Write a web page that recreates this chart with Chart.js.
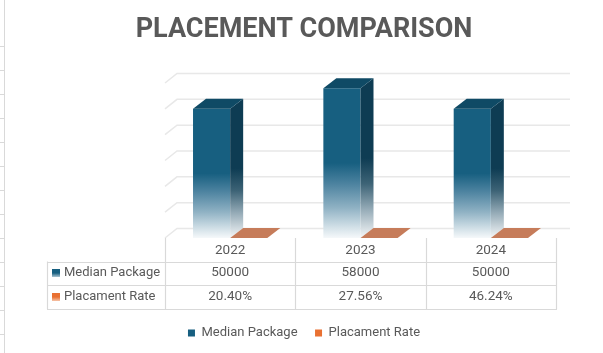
<!DOCTYPE html>
<html><head><meta charset="utf-8">
<script src="https://cdn.jsdelivr.net/npm/chart.js@4.4.1/dist/chart.umd.min.js"></script>
<style>html,body{margin:0;padding:0;background:#fff;}</style>
</head><body>
<canvas id="c" width="603" height="353"></canvas>
<script>
const categories = ['2022', '2023', '2024'];
const seriesNames = ['Median Package', 'Placament Rate'];
const medianPackage = [50000, 58000, 50000];
const placementRate = [20.40, 27.56, 46.24];
const yMax = 60000;
const yStep = 10000;

const DX = 13, DY = -10;      // bar depth
const WDX = 12, WDY = -9.5;   // wall depth
const TEXT = '#595959', LINE = '#d9d9d9', GRID = '#e8e8e8';
const BLUE = '#175f80', BLUE_SIDE = '#0e3c53', BLUE_TOP = '#0f4a65';
const ORANGE = '#e97132', ORANGE_TOP = '#c67c5a';
const FONT = 'Roboto, "Liberation Sans", sans-serif';

function frontGrad(ctx, y0, y1) {
  const g = ctx.createLinearGradient(0, y0, 0, y1);
  g.addColorStop(0, BLUE); g.addColorStop(0.5, BLUE);
  g.addColorStop(0.64, '#4d83a0'); g.addColorStop(0.8, '#90b2c4');
  g.addColorStop(0.93, '#d3e1e8'); g.addColorStop(1, '#f5f8fa');
  return g;
}
function sideGrad(ctx, y0, y1) {
  const g = ctx.createLinearGradient(0, y0, 0, y1);
  g.addColorStop(0, BLUE_SIDE); g.addColorStop(0.5, BLUE_SIDE);
  g.addColorStop(0.66, '#3d6376'); g.addColorStop(0.82, '#95abb7');
  g.addColorStop(1, '#f5f7f8');
  return g;
}

const threeD = {
  id: 'threeD',
  beforeDraw(chart) {
    const ctx = chart.ctx;
    ctx.save();
    ctx.strokeStyle = LINE; ctx.lineWidth = 1;
    ctx.beginPath(); ctx.moveTo(4.5, 0); ctx.lineTo(4.5, chart.height); ctx.stroke();
    for (let y = 45.5; y < chart.height; y += 24) {
      ctx.beginPath(); ctx.moveTo(0, Math.round(y) + 0.5); ctx.lineTo(4, Math.round(y) + 0.5); ctx.stroke();
    }
    ctx.restore();
  },
  beforeDatasetsDraw(chart) {
    const ctx = chart.ctx, ca = chart.chartArea, ys = chart.scales.y;
    ctx.save();
    ctx.strokeStyle = GRID; ctx.lineWidth = 1.5;
    for (let v = 0; v <= yMax; v += yStep) {
      const y = ys.getPixelForValue(v);
      ctx.beginPath();
      ctx.moveTo(ca.left, y);
      ctx.lineTo(ca.left + WDX, y + WDY);
      ctx.lineTo(ca.right + WDX + 2, y + WDY);
      ctx.stroke();
    }
    ctx.restore();
  },
  afterDatasetsDraw(chart) {
    const ctx = chart.ctx;
    ctx.save();
    chart.data.datasets.forEach((ds, di) => {
      const meta = chart.getDatasetMeta(di);
      meta.data.forEach(bar => {
        const p = bar.getProps(['x', 'y', 'base', 'width'], true);
        const l = p.x - p.width / 2, r = p.x + p.width / 2, t = Math.min(p.y, p.base), b = p.base;
        if (di === 0) {
          ctx.fillStyle = sideGrad(ctx, t + DY, b);
          ctx.beginPath();
          ctx.moveTo(r, t); ctx.lineTo(r + DX, t + DY); ctx.lineTo(r + DX, b + DY); ctx.lineTo(r, b);
          ctx.closePath(); ctx.fill();
          ctx.fillStyle = BLUE_TOP;
        } else {
          ctx.fillStyle = ORANGE_TOP;
        }
        ctx.beginPath();
        ctx.moveTo(l, t); ctx.lineTo(l + DX, t + DY); ctx.lineTo(r + DX, t + DY); ctx.lineTo(r, t);
        ctx.closePath(); ctx.fill();
      });
    });
    ctx.restore();
  },
  afterDraw(chart) {
    const ctx = chart.ctx, ca = chart.chartArea, xs = chart.scales.x;
    const n = categories.length;
    const step = (ca.right - ca.left) / n;
    const tl = ca.left - 118;
    const rows = [ca.bottom, ca.bottom + 23.5, ca.bottom + 47, ca.bottom + 71];
    ctx.save();
    ctx.strokeStyle = LINE; ctx.lineWidth = 1.2;
    for (let i = 0; i <= n; i++) {
      const x = Math.round(ca.left + i * step) + 0.5;
      ctx.beginPath(); ctx.moveTo(x, rows[0]); ctx.lineTo(x, rows[3]); ctx.stroke();
    }
    ctx.beginPath(); ctx.moveTo(tl + 0.5, rows[1]); ctx.lineTo(tl + 0.5, rows[3]); ctx.stroke();
    for (let k = 1; k <= 3; k++) {
      const y = Math.round(rows[k]) + 0.5;
      ctx.beginPath(); ctx.moveTo(tl, y); ctx.lineTo(ca.right + 1, y); ctx.stroke();
    }
    ctx.fillStyle = TEXT;
    ctx.font = '13.5px ' + FONT;
    ctx.textAlign = 'center'; ctx.textBaseline = 'middle';
    const cy = [rows[0] + 13, rows[1] + 11.5, rows[2] + 12];
    categories.forEach((c, i) => {
      const x = xs.getPixelForValue(i);
      ctx.fillText(c, x, cy[0]);
      ctx.fillText(String(medianPackage[i]), x, cy[1]);
      ctx.fillText(placementRate[i].toFixed(2) + '%', x, cy[2]);
    });
    ctx.textAlign = 'left';
    ctx.font = '13px ' + FONT;
    const keyCols = [[BLUE, '#a9c4d2'], [ORANGE, '#f6c4a8']];
    seriesNames.forEach((s, k) => {
      const y = cy[k + 1];
      const g = ctx.createLinearGradient(0, y - 4, 0, y + 4);
      g.addColorStop(0, keyCols[k][0]); g.addColorStop(0.5, keyCols[k][0]); g.addColorStop(1, keyCols[k][1]);
      ctx.fillStyle = g;
      ctx.fillRect(tl + 5, y - 4, 8, 8);
      ctx.fillStyle = TEXT;
      ctx.fillText(s, tl + 17, y);
    });
    ctx.restore();
  }
};

new Chart(document.getElementById('c'), {
  type: 'bar',
  data: {
    labels: categories,
    datasets: [
      {
        label: seriesNames[0],
        data: medianPackage,
        backgroundColor(c) {
          const ch = c.chart;
          if (!ch.chartArea) return BLUE;
          const ys = ch.scales.y;
          return frontGrad(ch.ctx, ys.getPixelForValue(c.raw), ys.getPixelForValue(0));
        },
        borderWidth: 0
      },
      {
        label: seriesNames[1],
        data: placementRate,
        backgroundColor: ORANGE_TOP,
        borderWidth: 0
      }
    ]
  },
  options: {
    responsive: false,
    animation: false,
    devicePixelRatio: 1,
    layout: { padding: { left: 52, right: 47, top: 0, bottom: 3.5 } },
    categoryPercentage: 0.57,
    barPercentage: 1.0,
    scales: {
      x: {
        grid: { display: false }, border: { display: false },
        ticks: { display: false },
        afterFit(s) { s.height = 71; }
      },
      y: {
        min: 0, max: yMax,
        ticks: { display: false, stepSize: yStep },
        grid: { display: false }, border: { display: false },
        afterFit(s) { s.width = 113; }
      }
    },
    plugins: {
      title: {
        display: true,
        text: 'PLACEMENT COMPARISON',
        color: TEXT,
        font: { family: FONT, size: 27, weight: 'bold' },
        padding: { top: 14, bottom: 36.6 }
      },
      legend: {
        position: 'bottom',
        labels: {
          color: TEXT,
          font: { family: FONT, size: 13 },
          boxWidth: 7, boxHeight: 7,
          padding: 17.5,
          generateLabels(chart) {
            return seriesNames.map((s, i) => ({
              text: s, fillStyle: i === 0 ? BLUE : ORANGE, strokeStyle: 'rgba(0,0,0,0)',
              lineWidth: 0, datasetIndex: i, hidden: false, fontColor: TEXT
            }));
          }
        }
      },
      tooltip: { enabled: false }
    }
  },
  plugins: [threeD]
});
</script>
</body></html>
